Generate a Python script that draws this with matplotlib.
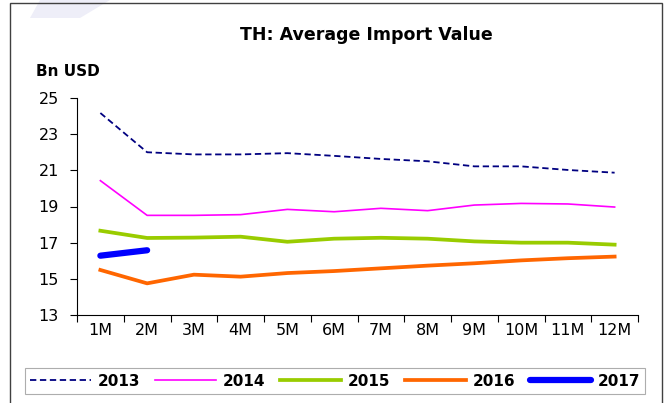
import matplotlib
matplotlib.use("Agg")
import matplotlib.pyplot as plt
from matplotlib.patches import Rectangle, Polygon

plt.rcParams['font.family'] = ['DejaVu Sans']

months = ['1M', '2M', '3M', '4M', '5M', '6M', '7M', '8M', '9M', '10M', '11M', '12M']
y2013 = [24.17, 22.0, 21.88, 21.88, 21.95, 21.8, 21.63, 21.5, 21.22, 21.22, 21.02, 20.87]
y2014 = [20.43, 18.51, 18.51, 18.55, 18.84, 18.71, 18.9, 18.77, 19.08, 19.17, 19.14, 18.97]
y2015 = [17.66, 17.26, 17.28, 17.33, 17.05, 17.22, 17.27, 17.22, 17.07, 17.0, 17.0, 16.89]
y2016 = [15.49, 14.75, 15.23, 15.12, 15.32, 15.43, 15.58, 15.73, 15.86, 16.02, 16.14, 16.23]
y2017 = [16.28, 16.58]

fig = plt.figure(figsize=(6.7, 4.03), dpi=100)
ax = fig.add_axes([77/670, 1-315/403, (638-77)/670, (315-98)/403])

# outer frame and faint watermark
fig.patches.append(Rectangle((10/670, -0.01), 652/670, 1-3/403+0.01, transform=fig.transFigure,
                             fill=False, edgecolor='#404040', linewidth=1.0))
fig.patches.append(Polygon([(40/670, 1), (110/670, 1), (80/670, 1-18/403), (30/670, 1-18/403)],
                           closed=True, transform=fig.transFigure, facecolor='#eeeef8',
                           edgecolor='none', zorder=-1))

x = range(len(months))
ax.plot(x, y2013, color='#000080', lw=1.3, ls=(0, (3.5, 2)), label='2013')
ax.plot(x, y2014, color='#FF00FF', lw=1.2, label='2014')
ax.plot(x, y2015, color='#99CC00', lw=2.7, label='2015')
ax.plot(x, y2016, color='#FF6600', lw=2.7, label='2016')
ax.plot(range(len(y2017)), y2017, color='#0000FF', lw=4.5, solid_capstyle='round', label='2017')

ax.set_xlim(-0.5, 11.5)
ax.set_ylim(13, 25)
ax.set_yticks(range(13, 26, 2))
ax.set_xticks(x)
ax.set_xticklabels(months)
ax.set_xticks([i - 0.5 for i in range(13)], minor=True)
ax.tick_params(axis='x', which='major', length=0, pad=6, labelsize=11.5)
ax.tick_params(axis='x', which='minor', length=5, width=0.8)
ax.tick_params(axis='y', length=5, width=0.8, pad=8, labelsize=11.5)
ax.spines['top'].set_visible(False)
ax.spines['right'].set_visible(False)

fig.text(366/670, 1-35/403, 'TH: Average Import Value', ha='center', va='center',
         fontsize=12.5, fontweight='bold')
fig.text(68/670, 1-72/403, 'Bn USD', ha='center', va='center', fontsize=11, fontweight='bold')

leg = fig.legend(loc='center', bbox_to_anchor=(335/670, 1-381/403), ncol=5, frameon=True,
                 fancybox=False, edgecolor='#999999', prop={'weight': 'bold', 'size': 11},
                 handlelength=4.0, columnspacing=1.0, handletextpad=0.4, borderpad=0.35)
leg.get_frame().set_linewidth(0.8)

plt.savefig('out.png', dpi=100)
